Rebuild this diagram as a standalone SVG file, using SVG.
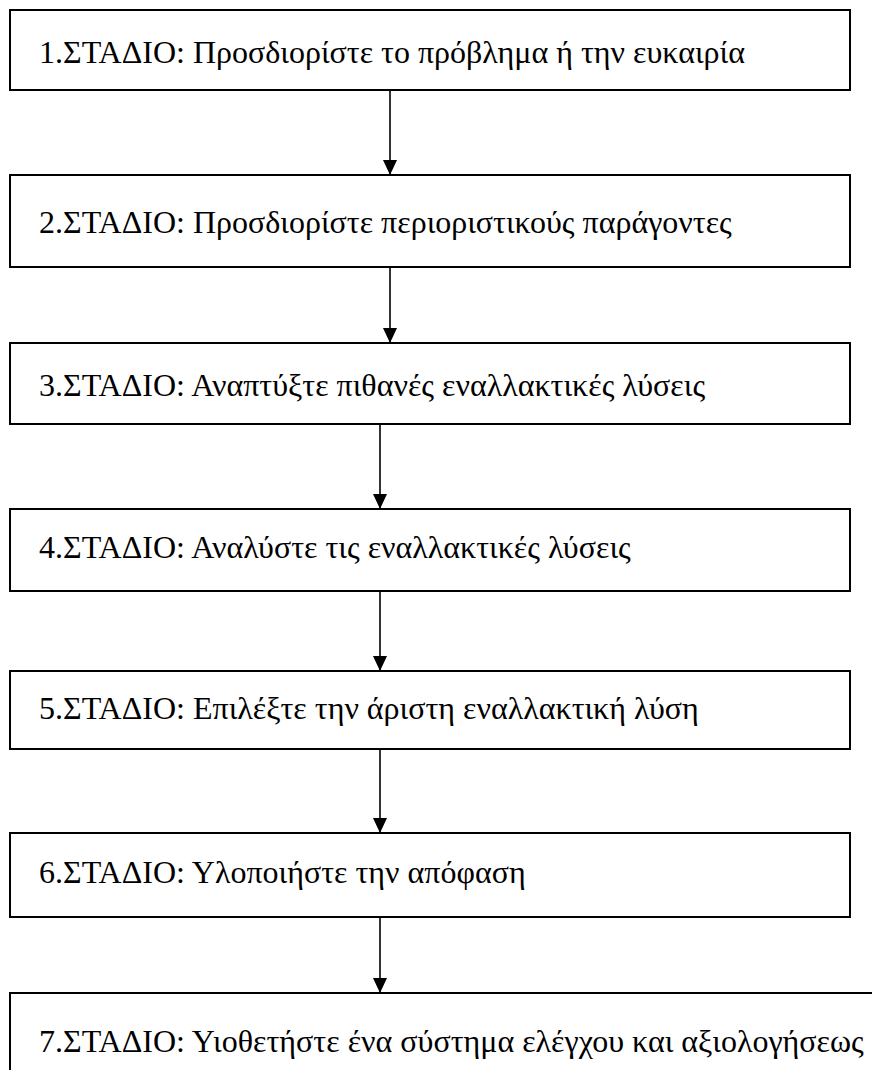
<svg xmlns="http://www.w3.org/2000/svg" width="872" height="1070" viewBox="0 0 872 1070">
<style>
.box{fill:#fff;stroke:#000;stroke-width:2}
.t{font-size:32px;fill:#000}
.c{stroke:#000;stroke-width:1.6;fill:none}
</style>
<defs>
<marker id="ah" markerWidth="15" markerHeight="14" refX="15" refY="7" orient="auto" markerUnits="userSpaceOnUse" viewBox="0 0 15 14">
<path d="M0,0 L15,7 L0,14 Z" fill="#000"/>
</marker>
</defs>
<rect width="872" height="1070" fill="#fff"/>
<g font-family="'Liberation Serif', 'DejaVu Serif', serif">
<g id="n1"><rect class="box" x="10" y="10" width="840" height="80"/><text class="t" x="39" y="63">1.ΣΤΑΔΙΟ: Προσδιορίστε το πρόβλημα ή την ευκαιρία</text></g>
<g id="n2"><rect class="box" x="10" y="175" width="840" height="92"/><text class="t" x="39" y="233">2.ΣΤΑΔΙΟ: Προσδιορίστε περιοριστικούς παράγοντες</text></g>
<g id="n3"><rect class="box" x="10" y="343" width="840" height="81"/><text class="t" x="39" y="396">3.ΣΤΑΔΙΟ: Αναπτύξτε πιθανές εναλλακτικές λύσεις</text></g>
<g id="n4"><rect class="box" x="10" y="509" width="840" height="82"/><text class="t" x="39" y="558">4.ΣΤΑΔΙΟ: Αναλύστε τις εναλλακτικές λύσεις</text></g>
<g id="n5"><rect class="box" x="10" y="671" width="840" height="78"/><text class="t" x="39" y="719">5.ΣΤΑΔΙΟ: Επιλέξτε την άριστη εναλλακτική λύση</text></g>
<g id="n6"><rect class="box" x="10" y="833" width="840" height="84"/><text class="t" x="39" y="883">6.ΣΤΑΔΙΟ: Υλοποιήστε την απόφαση</text></g>
<g id="n7"><rect class="box" x="10" y="993" width="880" height="100"/><text class="t" x="39" y="1052">7.ΣΤΑΔΙΟ: Υιοθετήστε ένα σύστημα ελέγχου και αξιολογήσεως</text></g>
</g>
<g id="connectors">
<line class="c" x1="390" y1="90" x2="390" y2="175" marker-end="url(#ah)"/>
<line class="c" x1="390" y1="267" x2="390" y2="343" marker-end="url(#ah)"/>
<line class="c" x1="380" y1="424" x2="380" y2="509" marker-end="url(#ah)"/>
<line class="c" x1="380" y1="591" x2="380" y2="671" marker-end="url(#ah)"/>
<line class="c" x1="380" y1="749" x2="380" y2="833" marker-end="url(#ah)"/>
<line class="c" x1="380" y1="917" x2="380" y2="993" marker-end="url(#ah)"/>
</g>
</svg>
